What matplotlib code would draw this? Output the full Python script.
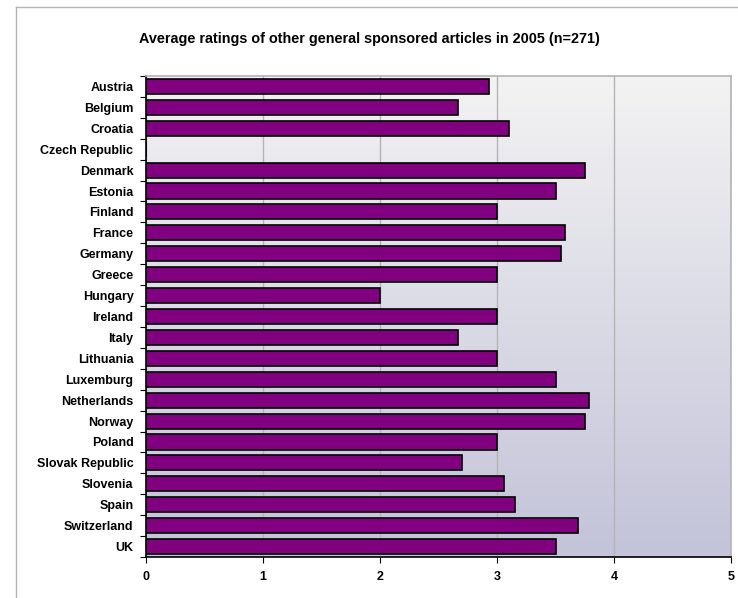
import numpy as np
import matplotlib
matplotlib.use("Agg")
import matplotlib.pyplot as plt
from matplotlib.colors import LinearSegmentedColormap
from matplotlib.lines import Line2D

plt.rcParams['font.family'] = ['Liberation Sans', 'DejaVu Sans']

countries = ["Austria", "Belgium", "Croatia", "Czech Republic", "Denmark", "Estonia",
             "Finland", "France", "Germany", "Greece", "Hungary", "Ireland", "Italy",
             "Lithuania", "Luxemburg", "Netherlands", "Norway", "Poland",
             "Slovak Republic", "Slovenia", "Spain", "Switzerland", "UK"]
ratings = [2.93, 2.67, 3.10, np.nan, 3.75, 3.50,
           3.00, 3.58, 3.55, 3.00, 2.00, 3.00, 2.67,
           3.00, 3.50, 3.79, 3.75, 3.00,
           2.70, 3.06, 3.15, 3.69, 3.50]
x_ticks = [0, 1, 2, 3, 4, 5]

fig = plt.figure(figsize=(7.38, 5.98), dpi=100)
ax = fig.add_axes([146 / 738, 41 / 598, 585 / 738, 481 / 598])

# gradient background of the plot area
grad = LinearSegmentedColormap.from_list("bg", ["#f3f3f3", "#c3c3d9"])
ax.imshow(np.linspace(0, 1, 256).reshape(-1, 1), cmap=grad, aspect='auto',
          extent=[0, 1, 0, 1], transform=ax.transAxes, zorder=0)

ypos = np.arange(len(countries))
vals = np.nan_to_num(np.array(ratings, dtype=float))
ax.barh(ypos, vals, height=0.72, color='#800080', edgecolor='black',
        linewidth=1.2, zorder=3)

ax.set_xlim(0, 5)
ax.set_ylim(len(countries) - 0.5, -0.5)
ax.set_xticks(x_ticks)
ax.set_xticklabels([str(t) for t in x_ticks], fontsize=9, fontweight='bold')
ax.set_yticks(ypos)
ax.set_yticklabels(countries, fontsize=9, fontweight='bold')
ax.tick_params(axis='y', which='major', length=0, pad=9)
ax.set_yticks(np.arange(-0.5, len(countries), 1), minor=True)
ax.tick_params(axis='y', which='minor', length=4, width=0.8, direction='out')
ax.tick_params(axis='x', length=4, width=0.8, pad=6)

ax.grid(axis='x', color='#b4b4b4', linewidth=1, zorder=1)
ax.set_axisbelow(True)

for s in ['top', 'right']:
    ax.spines[s].set_color('#b4b4b4')
    ax.spines[s].set_linewidth(1.2)
for s in ['left', 'bottom']:
    ax.spines[s].set_color('black')
    ax.spines[s].set_linewidth(1.2)

fig.text(0.5, 1 - 39 / 598, "Average ratings of other general sponsored articles in 2005 (n=271)",
         ha='center', va='center', fontsize=10.4, fontweight='bold')

# outer chart frame (left and top edges visible)
fig.add_artist(Line2D([16 / 738, 16 / 738], [0, 1 - 7 / 598], color='#b4b4b4',
                      linewidth=1, transform=fig.transFigure))
fig.add_artist(Line2D([16 / 738, 1], [1 - 7 / 598, 1 - 7 / 598], color='#b4b4b4',
                      linewidth=1, transform=fig.transFigure))

fig.savefig("out.png", dpi=100)
